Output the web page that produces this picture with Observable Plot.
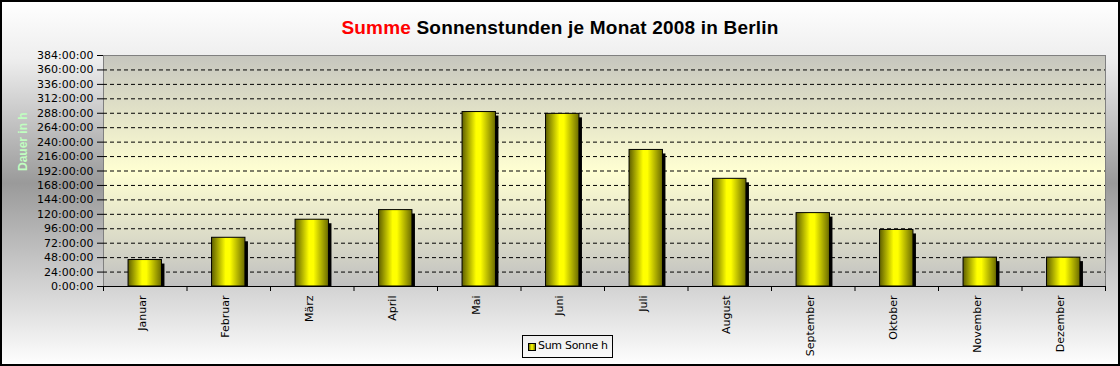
<!DOCTYPE html>
<html>
<head>
<meta charset="utf-8">
<script src="https://cdn.jsdelivr.net/npm/d3@7"></script>
<script src="https://cdn.jsdelivr.net/npm/@observablehq/plot@0.6"></script>
<style>
  html, body { margin: 0; padding: 0; background: #fff; }
  #wrap { position: relative; width: 1120px; height: 366px; font-family: "Liberation Sans", Arial, sans-serif; }
  #title { position: absolute; left: 0; top: 17px; width: 1120px; text-align: center; font-weight: bold; font-size: 19px; letter-spacing: 0.2px; color: #000; pointer-events: none; }
  #title .red { color: #ff0000; }
  #legend { position: absolute; left: 522px; top: 335px; width: 89px; height: 21px; border: 1px solid #000; box-sizing: content-box; font-family: "DejaVu Sans", sans-serif; font-size: 11px; }
  #legend .sw { position: absolute; left: 5px; top: 7px; width: 6px; height: 6px; border: 1px solid #000; background: linear-gradient(to right, #7a7a00, #ffff00 50%, #7a7a00); }
  #legend .lb { position: absolute; left: 15px; top: 3px; white-space: nowrap; letter-spacing: -0.3px; }
</style>
</head>
<body>
<div id="wrap">
  <div id="chart"></div>
  <div id="title"><span class="red">Summe</span> Sonnenstunden je Monat 2008 in Berlin</div>
  <div id="legend"><div class="sw"></div><div class="lb">Sum Sonne h</div></div>
</div>
<script>
// ---- data ----
const months = ["Januar", "Februar", "März", "April", "Mai", "Juni", "Juli", "August", "September", "Oktober", "November", "Dezember"];
const sunHours = [44, 81, 111, 127, 290, 287, 227, 179, 122, 94, 48, 48];
const yTicks = [0, 24, 48, 72, 96, 120, 144, 168, 192, 216, 240, 264, 288, 312, 336, 360, 384];
const gridTicks = yTicks.slice(1, -1);
const seriesName = "Sum Sonne h";
const yLabel = "Dauer in h";

const data = months.map((m, i) => ({month: m, hours: sunHours[i]}));
const fmt = h => `${h}:00:00`;

const W = 1120, H = 366;
const mL = 103, mR = 15, mT = 55, mB = 80;
const step = (W - mL - mR) / months.length;

const chart = Plot.plot({
  width: W,
  height: H,
  marginLeft: mL,
  marginRight: mR,
  marginTop: mT,
  marginBottom: mB,
  style: {
    fontFamily: "'DejaVu Sans', sans-serif",
    fontSize: "11px",
    color: "#000",
    background: "linear-gradient(to bottom, #ffffff 0%, #eeeeee 16%, #9a9a9a 50%, #dadada 82%, #ffffff 100%)",
    outline: "2px solid #000",
    outlineOffset: "-2px"
  },
  x: {domain: months, paddingInner: 0.6, paddingOuter: 0.3, round: false, label: null},
  y: {domain: [0, 384], label: null},
  marks: [
    Plot.frame({fill: "url(#plotGrad)", stroke: "#808080"}),
    Plot.gridY(gridTicks, {stroke: "#000", strokeOpacity: 1, strokeDasharray: "4,3"}),
    Plot.barY(data, {x: "month", y: "hours", fill: "#000", dx: 3, insetTop: 4}),
    Plot.barY(data, {x: "month", y: "hours", fill: "url(#barGrad)", stroke: "#000", strokeWidth: 1}),
    Plot.ruleY([0], {stroke: "#000"}),
    Plot.ruleX(months, {x: d => d, y1: 0, y2: 0, insetBottom: -5, dx: -step / 2, stroke: "#000"}),
    Plot.ruleX(months.slice(-1), {x: d => d, y1: 0, y2: 0, insetBottom: -5, dx: step / 2, stroke: "#000"}),
    Plot.axisY({ticks: yTicks, tickFormat: fmt, tickSize: 6, tickPadding: 4, label: null}),
    Plot.axisX({tickRotate: -90, tickSize: 0, tickPadding: 9, dx: -3, label: null}),
    Plot.text([yLabel], {frameAnchor: "left", dx: -80, rotate: -90, fill: "#c0ffc0", fontWeight: "bold", fontSize: 12, fontFamily: "'Liberation Sans', Arial, sans-serif"})
  ]
});

// gradients
const svg = d3.select(chart);
const defs = svg.insert("defs", ":first-child");
const pg = defs.append("linearGradient").attr("id", "plotGrad").attr("x1", 0).attr("y1", 0).attr("x2", 0).attr("y2", 1);
[[0, "#c6c6be"], [0.5, "#ffffd2"], [1, "#c0c0c0"]].forEach(([o, c]) => pg.append("stop").attr("offset", o).attr("stop-color", c));
const bg = defs.append("linearGradient").attr("id", "barGrad").attr("x1", 0).attr("y1", 0).attr("x2", 1).attr("y2", 0);
[[0, "#5e5e00"], [0.42, "#ffff00"], [0.55, "#ffff00"], [1, "#6a6a00"]].forEach(([o, c]) => bg.append("stop").attr("offset", o).attr("stop-color", c));

document.getElementById("chart").append(chart);
</script>
</body>
</html>
